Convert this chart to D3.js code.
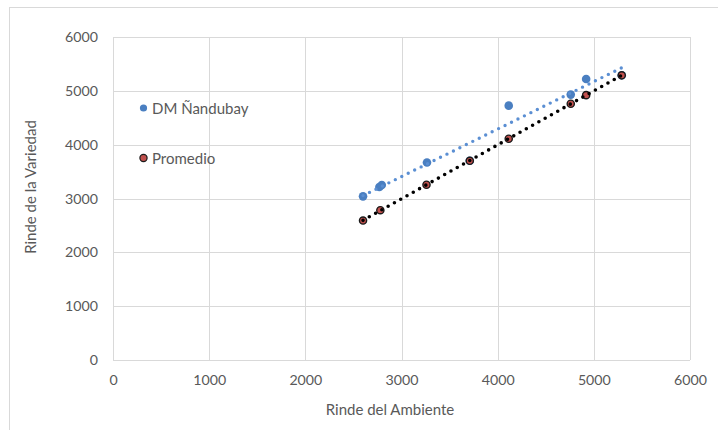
<!DOCTYPE html>
<html>
<head>
<meta charset="utf-8">
<script src="https://cdn.jsdelivr.net/npm/d3@7/dist/d3.min.js"></script>
<style>
  html, body { margin: 0; padding: 0; background: #fff; }
  svg { display: block; }
  text { font-family: Lato, "Open Sans", sans-serif; fill: #595959; }
</style>
</head>
<body>
<script>
// Rinde del ambiente (x) vs rinde de la variedad (y)
const nandubayX = [2600, 2770, 2795, 3265, 3710, 4115, 4760, 4920, 5290];
const nandubayY = [3040, 3215, 3250, 3670, 3700, 4725, 4930, 5220, 5290];
const promedioX = [2600, 2780, 3260, 3710, 4115, 4760, 4920, 5290];
const promedioY = [2590, 2783, 3255, 3700, 4110, 4760, 4920, 5288];
const seriesNames = ["DM Ñandubay", "Promedio"];
const xTicks = [0, 1000, 2000, 3000, 4000, 5000, 6000];
const yTicks = [0, 1000, 2000, 3000, 4000, 5000, 6000];
const xTitle = "Rinde del Ambiente";
const yTitle = "Rinde de la Variedad";

const W = 718, H = 430;
const m = { left: 113, right: 28, top: 37, bottom: 70 };

const svg = d3.select("body").append("svg").attr("width", W).attr("height", H);

// chart frame
svg.append("rect")
  .attr("x", 9.5).attr("y", 7.5)
  .attr("width", W).attr("height", H)
  .attr("fill", "none").attr("stroke", "#d9d9d9").attr("stroke-width", 1);

const x = d3.scaleLinear().domain([0, 6000]).range([m.left, W - m.right]);
const y = d3.scaleLinear().domain([0, 6000]).range([H - m.bottom, m.top]);

// gridlines
const grid = svg.append("g");
grid.selectAll("line.v").data(xTicks).join("line")
  .attr("x1", d => Math.round(x(d)) + 0.5).attr("x2", d => Math.round(x(d)) + 0.5)
  .attr("y1", y(0)).attr("y2", y(6000))
  .attr("stroke", "#d9d9d9");
grid.selectAll("line.h").data(yTicks).join("line")
  .attr("y1", d => Math.round(y(d)) + 0.5).attr("y2", d => Math.round(y(d)) + 0.5)
  .attr("x1", x(0)).attr("x2", x(6000))
  .attr("stroke", "#d9d9d9");

// axes (labels only, lines come from the grid)
const xAxis = svg.append("g")
  .attr("transform", `translate(0,${y(0)})`)
  .call(d3.axisBottom(x).tickValues(xTicks).tickSize(0).tickPadding(15).tickFormat(d3.format("d")));
const yAxis = svg.append("g")
  .attr("transform", `translate(${x(0)},0)`)
  .call(d3.axisLeft(y).tickValues(yTicks).tickSize(0).tickPadding(15).tickFormat(d3.format("d")));
[xAxis, yAxis].forEach(a => {
  a.select(".domain").remove();
  a.selectAll("text").attr("font-size", 14.2).attr("fill", "#595959")
    .style("font-family", "Lato, 'Open Sans', sans-serif");
});

svg.append("text")
  .attr("x", 390).attr("y", 415)
  .attr("text-anchor", "middle").attr("font-size", 15)
  .text(xTitle);
svg.append("text")
  .attr("transform", `translate(36,187) rotate(-90)`)
  .attr("text-anchor", "middle").attr("font-size", 15)
  .text(yTitle);

// least-squares line fitted to a series
function fit(xs, ys) {
  const n = xs.length;
  const mx = d3.mean(xs), my = d3.mean(ys);
  let sxy = 0, sxx = 0;
  for (let i = 0; i < n; i++) {
    sxy += (xs[i] - mx) * (ys[i] - my);
    sxx += (xs[i] - mx) ** 2;
  }
  const b = sxy / sxx, a = my - b * mx;
  const [x0, x1] = d3.extent(xs);
  return [[x0, a + b * x0], [x1, a + b * x1]];
}

const blue = "#4a7fc1";
const red = "#c0504d";

const line = d3.line().x(d => x(d[0])).y(d => y(d[1]));

// markers of the first series
svg.append("g").selectAll("circle")
  .data(d3.zip(nandubayX, nandubayY)).join("circle")
  .attr("cx", d => x(d[0])).attr("cy", d => y(d[1]))
  .attr("r", 4.3).attr("fill", blue);

// trendlines
svg.append("path")
  .attr("d", line(fit(nandubayX, nandubayY)))
  .attr("fill", "none").attr("stroke", "#5b8fd3")
  .attr("stroke-width", 3.4).attr("stroke-linecap", "round")
  .attr("stroke-dasharray", "0 7.2");

// markers of the second series
svg.append("g").selectAll("circle")
  .data(d3.zip(promedioX, promedioY)).join("circle")
  .attr("cx", d => x(d[0])).attr("cy", d => y(d[1]))
  .attr("r", 3.6).attr("fill", red)
  .attr("stroke", "#1a1a1a").attr("stroke-width", 1.4);

svg.append("path")
  .attr("d", line(fit(promedioX, promedioY)))
  .attr("fill", "none").attr("stroke", "#000")
  .attr("stroke-width", 3.6).attr("stroke-linecap", "round")
  .attr("stroke-dasharray", "0 7.2");

// legend
const legend = svg.append("g");
const legendRows = [
  { name: seriesNames[0], y: 108, fill: blue, stroke: "none" },
  { name: seriesNames[1], y: 158, fill: red, stroke: "#1a1a1a" }
];
legendRows.forEach(r => {
  legend.append("circle")
    .attr("cx", 143.5).attr("cy", r.y).attr("r", 3.6)
    .attr("fill", r.fill).attr("stroke", r.stroke).attr("stroke-width", 1.2);
  legend.append("text")
    .attr("x", 152).attr("y", r.y + 5.5)
    .attr("font-size", 15)
    .text(r.name);
});
</script>
</body>
</html>
